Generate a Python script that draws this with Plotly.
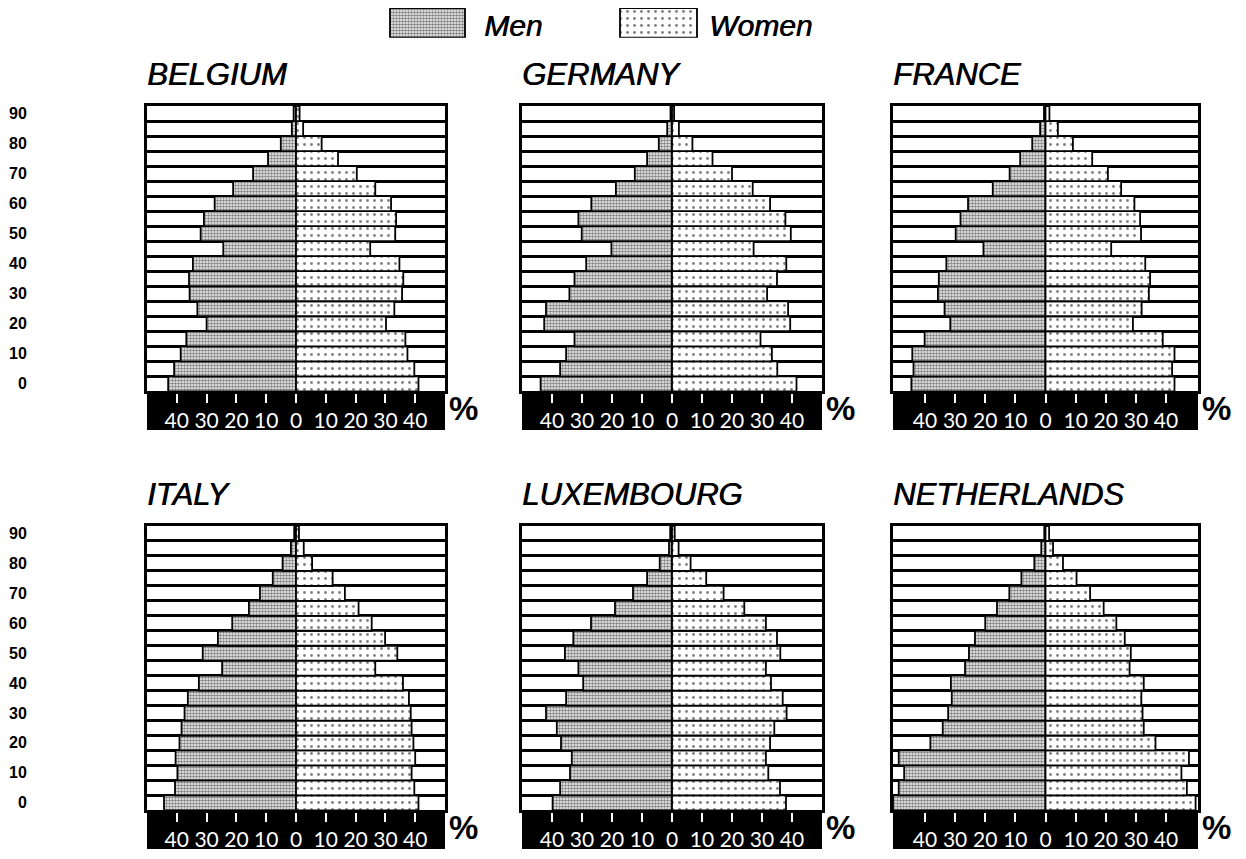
import plotly.graph_objects as go

W, H = 1246, 859          # browser window
OFF = 8                   # default body margin of the html page
FIG_W, FIG_H = W - 2 * OFF, H - 2 * OFF

# ---------------- data (age groups 0-4 ... 90+, bottom to top) ----------------
age_start = [0, 5, 10, 15, 20, 25, 30, 35, 40, 45, 50, 55, 60, 65, 70, 75, 80, 85, 90]
row_label_ages = [0, 10, 20, 30, 40, 50, 60, 70, 80, 90]
row_label_text = ["0", "10", "20", "30", "40", "50", "60", "70", "80", "90"]

countries = ["BELGIUM", "GERMANY", "FRANCE", "ITALY", "LUXEMBOURG", "NETHERLANDS"]

belgium_men = [42.9, 40.9, 38.7, 36.8, 30.0, 33.1, 35.7, 35.9, 34.6, 24.4, 32.0, 30.9, 27.3, 21.1, 14.4, 9.4, 5.1, 1.4, 0.8]
belgium_women = [41.1, 39.7, 37.4, 36.7, 30.2, 33.0, 35.6, 36.0, 34.7, 24.9, 33.3, 33.6, 31.9, 26.6, 20.4, 14.1, 8.6, 2.4, 1.2]

germany_men = [43.8, 37.3, 35.3, 32.5, 42.6, 42.0, 34.2, 32.5, 28.6, 20.2, 30.1, 31.2, 26.9, 18.7, 12.4, 8.3, 4.4, 1.6, 0.5]
germany_women = [41.5, 35.1, 33.3, 29.5, 39.4, 38.7, 31.7, 35.0, 38.1, 27.2, 39.6, 37.8, 32.7, 26.9, 20.0, 13.5, 6.8, 2.3, 0.7]

france_men = [44.5, 43.8, 44.2, 40.1, 31.6, 33.5, 35.7, 35.4, 32.9, 20.6, 29.8, 28.2, 25.7, 17.5, 11.9, 8.4, 4.4, 1.8, 0.5]
france_women = [42.8, 42.0, 42.8, 38.9, 29.0, 31.9, 34.3, 34.7, 33.1, 21.8, 31.7, 31.4, 29.5, 25.1, 20.7, 15.5, 9.1, 4.1, 1.3]

italy_men = [44.3, 40.6, 39.8, 40.4, 39.1, 38.4, 37.4, 36.3, 32.6, 24.8, 31.3, 26.2, 21.4, 15.8, 12.1, 7.8, 4.5, 1.7, 0.6]
italy_women = [41.1, 39.7, 38.8, 40.0, 39.4, 38.8, 38.5, 37.9, 35.9, 26.6, 34.0, 29.9, 25.4, 21.0, 16.4, 12.3, 5.4, 2.6, 1.0]

luxembourg_men = [39.8, 37.3, 34.0, 33.4, 37.0, 38.4, 42.0, 35.3, 29.6, 31.2, 35.7, 32.9, 27.0, 19.0, 13.0, 8.3, 4.1, 1.0, 0.6]
luxembourg_women = [38.0, 36.0, 32.1, 31.3, 32.7, 34.1, 38.2, 36.9, 33.0, 31.3, 36.1, 35.0, 31.3, 24.1, 17.2, 11.4, 6.2, 2.2, 0.9]

netherlands_men = [50.6, 48.7, 46.9, 48.7, 38.2, 34.1, 32.3, 31.1, 31.4, 26.7, 25.4, 23.4, 20.0, 16.1, 12.0, 8.0, 3.7, 1.4, 0.4]
netherlands_women = [49.8, 46.9, 45.1, 47.6, 36.5, 32.6, 32.2, 31.8, 32.6, 27.9, 28.3, 26.3, 23.5, 19.3, 14.8, 10.3, 5.8, 2.5, 1.2]

men_series = [belgium_men, germany_men, france_men, italy_men, luxembourg_men, netherlands_men]
women_series = [belgium_women, germany_women, france_women, italy_women, luxembourg_women, netherlands_women]

x_tickvals = [-40, -30, -20, -10, 0, 10, 20, 30, 40]
x_ticktext = ["40", "30", "20", "10", "0", "10", "20", "30", "40"]

legend_names = ["Men", "Women"]

# ---------------- layout constants (window pixels) ----------------
col_px = [(147, 445), (522, 822), (893, 1198)]
row_px = [(107, 395), (531, 818)]
x_ranges = [[-50, 50], [-50, 50], [-50.6, 50.6]]
strip_px = 39

men_pattern = dict(shape=".", fgcolor="black", bgcolor="white", size=3, solidity=0.6)
women_pattern = dict(shape=".", fgcolor="black", bgcolor="white", size=7, solidity=0.13)

TEXT_FONT = "Liberation Sans, Arial, sans-serif"
TICK_FONT = "Lato, Open Sans, sans-serif"
HEAVY = "0.7px 0px 0px #000"


def pxx(px):
    return (px - OFF) / FIG_W


def pxy(py):
    return 1 - (py - OFF) / FIG_H


fig = go.Figure()
layout = dict(
    width=FIG_W, height=FIG_H,
    margin=dict(l=0, r=0, t=0, b=0),
    paper_bgcolor="white", plot_bgcolor="white",
    showlegend=False, barmode="overlay",
)
annotations = []
shapes = []

for i, name in enumerate(countries):
    r, c = divmod(i, 3)
    n = i + 1
    xa = "x" if n == 1 else f"x{n}"
    ya = "y" if n == 1 else f"y{n}"
    xkey = "xaxis" if n == 1 else f"xaxis{n}"
    ykey = "yaxis" if n == 1 else f"yaxis{n}"
    x0, x1 = col_px[c]
    ytop, ybot = row_px[r]
    plot_h = ybot - ytop

    fig.add_trace(go.Bar(
        y=age_start, x=[-v for v in men_series[i]], base=0, orientation="h", width=5,
        marker=dict(color="white", pattern=men_pattern, line=dict(color="black", width=1.8)),
        xaxis=xa, yaxis=ya, name="Men", hoverinfo="skip",
    ))
    fig.add_trace(go.Bar(
        y=age_start, x=women_series[i], base=0, orientation="h", width=5,
        marker=dict(color="white", pattern=women_pattern, line=dict(color="black", width=1.8)),
        xaxis=xa, yaxis=ya, name="Women", hoverinfo="skip",
    ))

    layout[xkey] = dict(
        domain=[pxx(x0), pxx(x1)], range=x_ranges[c], anchor=ya,
        tickmode="array", tickvals=x_tickvals, ticktext=x_ticktext,
        ticks="outside", ticklen=9, tickwidth=1.5, tickcolor="white",
        tickfont=dict(family=TICK_FONT, size=21, color="white"),
        showline=True, linecolor="black", linewidth=2.5, mirror=True,
        showgrid=False, zeroline=True, zerolinecolor="black", zerolinewidth=2,
        fixedrange=True,
    )
    layout[ykey] = dict(
        domain=[pxy(ybot), pxy(ytop)], range=[-2.5, 92.5], anchor=xa,
        tickmode="linear", tick0=-2.5, dtick=5, showticklabels=False, ticks="",
        showgrid=True, gridcolor="black", gridwidth=2.6,
        showline=True, linecolor="black", linewidth=2.5, mirror=True,
        zeroline=False, fixedrange=True,
    )

    # black axis strip under each pyramid
    shapes.append(dict(
        type="rect", xref=f"{xa} domain", yref=f"{ya} domain",
        x0=0, x1=1, y0=-strip_px / plot_h, y1=0,
        fillcolor="black", line=dict(width=0), layer="below",
    ))
    # title
    annotations.append(dict(
        text=f"<i>{name}</i>", xref=f"{xa} domain", yref=f"{ya} domain",
        x=0, y=1, xanchor="left", yanchor="bottom", yshift=12, xshift=-2,
        showarrow=False, font=dict(family=TEXT_FONT, size=31, color="black", shadow=HEAVY),
    ))
    # percent sign
    annotations.append(dict(
        text="<b>%</b>", xref=f"{xa} domain", yref=f"{ya} domain",
        x=1, y=-17 / plot_h, xanchor="left", yanchor="middle", xshift=2,
        showarrow=False, font=dict(family=TEXT_FONT, size=33, color="black"),
    ))
    # row labels on the far left
    if c == 0:
        for age, txt in zip(row_label_ages, row_label_text):
            annotations.append(dict(
                text=f"<b>{txt}</b>", xref="paper", yref=ya, x=pxx(29), y=age,
                xanchor="right", yanchor="middle", showarrow=False,
                font=dict(family=TEXT_FONT, size=16, color="black"),
            ))

# ---------------- legend (swatches drawn as bars on a pixel-scaled axis) ----------------
legend_swatch_left = [390, 620]
legend_swatch_len = [75, 77]
legend_text_left = [482, 707]
legend_patterns = [men_pattern, women_pattern]
for k in range(2):
    fig.add_trace(go.Bar(
        y=[0], x=[legend_swatch_len[k]], base=[legend_swatch_left[k]], orientation="h", width=1,
        marker=dict(color="white", pattern=legend_patterns[k], line=dict(color="black", width=1.8)),
        xaxis="x7", yaxis="y7", hoverinfo="skip", name=legend_names[k],
    ))
    annotations.append(dict(
        text=f"<i>{legend_names[k]}</i>", xref="paper", yref="paper",
        x=pxx(legend_text_left[k]), y=pxy(26), xanchor="left", yanchor="middle",
        showarrow=False, font=dict(family=TEXT_FONT, size=30, color="black", shadow=HEAVY),
    ))
layout["xaxis7"] = dict(domain=[0, 1], range=[OFF, OFF + FIG_W], visible=False, anchor="y7", fixedrange=True)
layout["yaxis7"] = dict(domain=[pxy(38), pxy(8)], range=[-0.5, 0.5],
                        visible=False, anchor="x7", fixedrange=True)

layout["annotations"] = annotations
layout["shapes"] = shapes
fig.update_layout(**layout)

fig.write_html("out.html")
